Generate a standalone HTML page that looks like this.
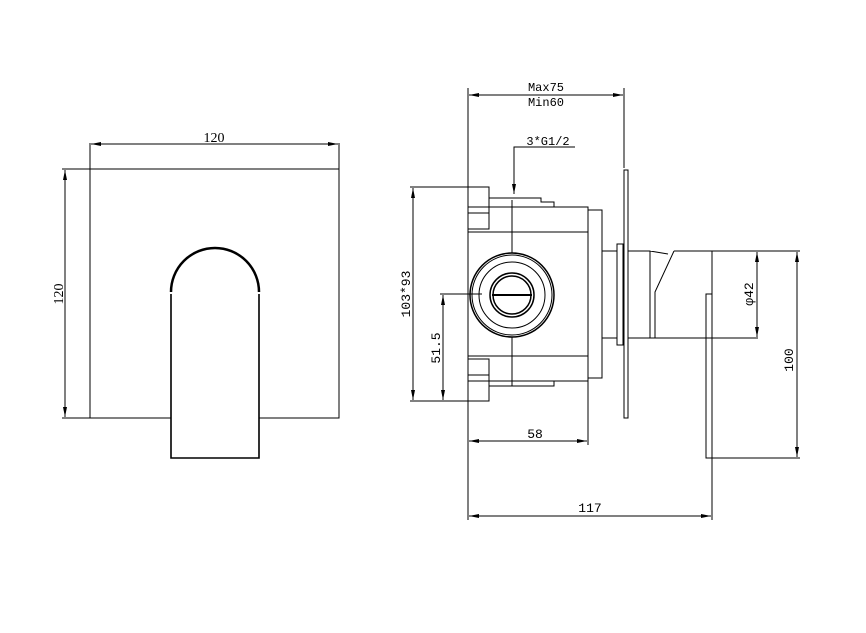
<!DOCTYPE html>
<html><head><style>body{margin:0;background:#fff}svg{display:block}</style></head><body>
<svg width="866" height="633" viewBox="0 0 866 633" xmlns="http://www.w3.org/2000/svg" font-family="Liberation Mono, monospace" font-size="12">
<defs><marker id="a" viewBox="0 0 10 4" refX="10" refY="2" markerWidth="10" markerHeight="4" orient="auto-start-reverse" markerUnits="userSpaceOnUse"><path d="M0,0L10,2L0,4z" fill="#000"/></marker></defs>
<g stroke="#000" fill="none" stroke-width="1">
<rect x="90" y="169" width="249" height="249"/>
<path d="M171,292 A44,44 0 0 1 259,292" stroke-width="2.5"/>
<path d="M171,294 V458 H259 V294" stroke-width="1.6" fill="#fff"/>
<line x1="90" y1="143" x2="90" y2="169"/><line x1="339" y1="143" x2="339" y2="169"/>
<line x1="91" y1="144" x2="338" y2="144" marker-start="url(#a)" marker-end="url(#a)"/>
<line x1="62" y1="169" x2="90" y2="169"/><line x1="62" y1="418" x2="90" y2="418"/>
<line x1="65" y1="170" x2="65" y2="417" marker-start="url(#a)" marker-end="url(#a)"/>
<line x1="468" y1="88" x2="468" y2="520"/>
<line x1="624" y1="88" x2="624" y2="168"/>
<line x1="469" y1="95" x2="623" y2="95" marker-start="url(#a)" marker-end="url(#a)"/>
<rect x="468" y="187" width="21" height="42"/>
<rect x="468" y="359" width="21" height="42"/>
<line x1="468" y1="213" x2="489" y2="213"/><line x1="468" y1="375" x2="489" y2="375"/>
<path d="M489,198 H541 V202 H554 V207"/>
<path d="M489,386 H554 V381"/>
<rect x="468" y="207" width="120" height="174"/>
<line x1="468" y1="232" x2="588" y2="232"/><line x1="468" y1="356" x2="588" y2="356"/>
<rect x="588" y="210" width="14" height="168"/>
<line x1="588" y1="381" x2="588" y2="445"/>
<line x1="512" y1="200" x2="512" y2="253"/><line x1="512" y1="337" x2="512" y2="386"/>
<circle cx="512" cy="295" r="42" stroke-width="1.5"/>
<circle cx="512" cy="295" r="40"/>
<circle cx="512" cy="295" r="33"/>
<circle cx="512" cy="295" r="22" stroke-width="1.5"/>
<circle cx="512" cy="295" r="19" stroke-width="1.5"/>
<line x1="492" y1="295" x2="532" y2="295" stroke-width="2"/>
<line x1="440" y1="294" x2="482" y2="294"/>
<rect x="624" y="170" width="4" height="248"/>
<rect x="617" y="244" width="6" height="101"/>
<line x1="602" y1="251" x2="617" y2="251"/><line x1="602" y1="338" x2="617" y2="338"/>
<path d="M628,251 H650 V338 M628,338 H758 M650,251 L668,254 M674,251 H800"/>
<path d="M674,251 L655,292 V338"/>
<path d="M712,251 V520"/>
<rect x="706" y="294" width="6" height="164"/>
<line x1="712" y1="458" x2="800" y2="458"/>
<line x1="757" y1="252" x2="757" y2="337" marker-start="url(#a)" marker-end="url(#a)"/>
<line x1="797" y1="252" x2="797" y2="457" marker-start="url(#a)" marker-end="url(#a)"/>
<line x1="410" y1="187" x2="468" y2="187"/><line x1="410" y1="401" x2="468" y2="401"/>
<line x1="413" y1="188" x2="413" y2="400" marker-start="url(#a)" marker-end="url(#a)"/>
<line x1="443" y1="295" x2="443" y2="400" marker-start="url(#a)" marker-end="url(#a)"/>
<line x1="469" y1="441" x2="587" y2="441" marker-start="url(#a)" marker-end="url(#a)"/>
<line x1="469" y1="516" x2="711" y2="516" marker-start="url(#a)" marker-end="url(#a)"/>
<path d="M575,147 H514 V194" marker-end="url(#a)"/>
</g>
<g fill="#000">
<text x="214" y="142" text-anchor="middle" font-family="Liberation Serif, serif" font-size="14">120</text>
<text transform="translate(63,294) rotate(-90)" text-anchor="middle" font-family="Liberation Serif, serif" font-size="14">120</text>
<text x="546" y="91" text-anchor="middle">Max75</text>
<text x="546" y="106" text-anchor="middle">Min60</text>
<text x="548" y="145" text-anchor="middle">3*G1/2</text>
<text transform="translate(410,294) rotate(-90)" text-anchor="middle" font-size="13">103*93</text>
<text transform="translate(440,348) rotate(-90)" text-anchor="middle" font-size="13">51.5</text>
<text x="535" y="438" text-anchor="middle" font-size="13">58</text>
<text x="590" y="512" text-anchor="middle" font-size="13">117</text>
<text transform="translate(753,294) rotate(-90)" text-anchor="middle" font-size="13">φ42</text>
<text transform="translate(793,360) rotate(-90)" text-anchor="middle" font-size="13">100</text>
</g>
</svg>
</body></html>
